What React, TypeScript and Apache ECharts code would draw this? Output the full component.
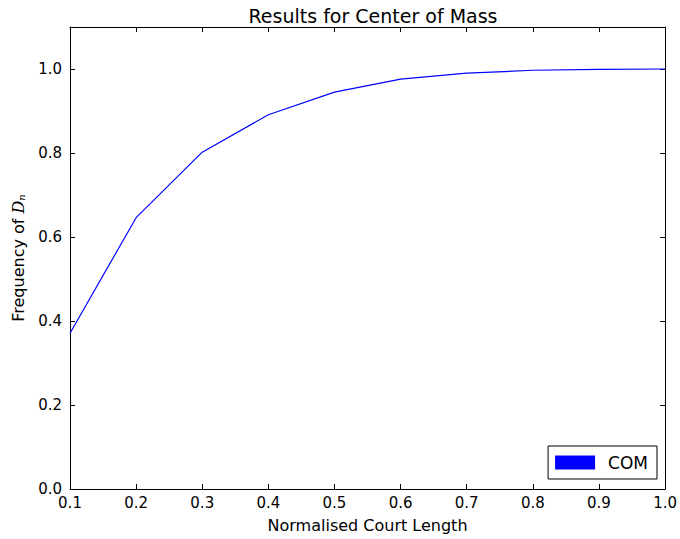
import React, { useEffect, useRef } from "react";
import * as echarts from "echarts";

const xValues = [0.1, 0.2, 0.3, 0.4, 0.5, 0.6, 0.7, 0.8, 0.9, 1.0];
const comValues = [0.371, 0.646, 0.802, 0.891, 0.945, 0.976, 0.990, 0.997, 0.999, 1.0];
const seriesName = "COM";
const titleText = "Results for Center of Mass";
const xLabel = "Normalised Court Length";

const FONT = "DejaVu Sans";

export default function App() {
  const ref = useRef<HTMLDivElement>(null);
  useEffect(() => {
    if (!ref.current) return;
    const chart = echarts.init(ref.current, null, { renderer: "svg" });
    const tickStyle = { inside: true, length: 5, lineStyle: { color: "#000", width: 1 } };
    const lineAxis = { lineStyle: { color: "#000", width: 1 } };
    chart.setOption({
      animation: false,
      backgroundColor: "#fff",
      title: {
        text: titleText,
        left: 368,
        textAlign: "center",
        top: 1,
        textStyle: { fontFamily: FONT, fontSize: 19, fontWeight: "normal", color: "#000" },
      },
      legend: {
        data: [{ name: seriesName, icon: "rect" }],
        right: 23,
        bottom: 60,
        itemWidth: 40,
        itemHeight: 14,
        padding: [8, 9, 8, 7],
        borderColor: "#000",
        borderWidth: 1,
        borderRadius: 0,
        textStyle: { fontFamily: FONT, fontSize: 17, color: "#000", padding: [0, 0, 0, 8] },
      },
      grid: { left: 70, right: 13, top: 27, bottom: 50, containLabel: false },
      xAxis: [
        {
          type: "value",
          min: 0.1,
          max: 1.0,
          interval: 0.1,
          position: "bottom",
          name: xLabel,
          nameLocation: "middle",
          nameGap: 28,
          nameTextStyle: { fontFamily: FONT, fontSize: 16, color: "#000" },
          axisLine: { show: true, onZero: false, ...lineAxis },
          axisTick: tickStyle,
          splitLine: { show: false },
          axisLabel: {
            fontFamily: FONT,
            fontSize: 15,
            color: "#000",
            margin: 6,
            formatter: (v: number) => v.toFixed(1),
          },
        },
        {
          type: "value",
          min: 0.1,
          max: 1.0,
          interval: 0.1,
          position: "top",
          axisLine: { show: true, onZero: false, ...lineAxis },
          axisTick: tickStyle,
          axisLabel: { show: false },
          splitLine: { show: false },
        },
      ],
      yAxis: [
        {
          type: "value",
          min: 0,
          max: 1.1,
          interval: 0.2,
          position: "left",
          name: "Frequency of {i|D}{s|n}",
          nameLocation: "middle",
          nameGap: 44,
          nameTextStyle: {
            fontFamily: FONT,
            fontSize: 16,
            color: "#000",
            rich: {
              i: { fontFamily: "DejaVu Serif", fontStyle: "italic", fontSize: 16, color: "#000" },
              s: { fontFamily: "DejaVu Serif", fontStyle: "italic", fontSize: 10, color: "#000", verticalAlign: "bottom", padding: [6, 0, 0, 0] },
            },
          },
          axisLine: { show: true, onZero: false, ...lineAxis },
          axisTick: tickStyle,
          splitLine: { show: false },
          axisLabel: {
            fontFamily: FONT,
            fontSize: 15,
            color: "#000",
            margin: 8,
            showMaxLabel: false,
            formatter: (v: number) => (v > 1.05 ? "" : v.toFixed(1)),
          },
        },
        {
          type: "value",
          min: 0,
          max: 1.1,
          interval: 0.2,
          position: "right",
          axisLine: { show: true, onZero: false, ...lineAxis },
          axisTick: tickStyle,
          axisLabel: { show: false },
          splitLine: { show: false },
        },
      ],
      series: [
        {
          name: seriesName,
          type: "line",
          xAxisIndex: 0,
          yAxisIndex: 0,
          data: xValues.map((x, i) => [x, comValues[i]]),
          showSymbol: false,
          symbol: "none",
          itemStyle: { color: "#0000ff" },
          lineStyle: { color: "#0000ff", width: 1.2 },
        },
      ],
    });
    return () => chart.dispose();
  }, []);
  return <div ref={ref} style={{ width: 680, height: 539, position: "absolute", left: 0, top: 0 }} />;
}
